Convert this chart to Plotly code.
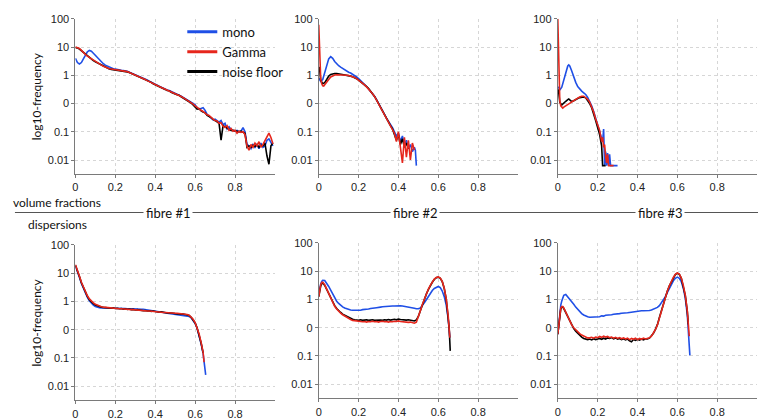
import plotly.graph_objects as go

BLUE = "#1f4fe6"
RED = "#e6261c"
BLACK = "#000000"

x_ticks = [0, 0.2, 0.4, 0.6, 0.8]
x_tick_labels = ["0", "0.2", "0.4", "0.6", "0.8"]
y_ticks = [2, 1, 0, -1, -2, -3]
y_tick_labels = ["100", "10", "1", "0", "0.1", "0.01"]
series_names = ["mono", "Gamma", "noise floor"]
fibre_labels = ["fibre #1", "fibre #2", "fibre #3"]
row_labels = ["volume fractions", "dispersions"]
y_title = "log10-frequency"

# ---------- top row: volume fractions (x, log10 frequency) ----------
tl_x = [0.00,0.01,0.02,0.03,0.04,0.05,0.06,0.07,0.08,0.09,0.10,0.11,0.12,0.13,0.14,0.15,0.16,0.17,0.18,0.19,
        0.20,0.21,0.22,0.23,0.24,0.25,0.26,0.27,0.28,0.29,0.30,0.31,0.32,0.33,0.34,0.35,0.36,0.37,0.38,0.39,
        0.40,0.41,0.42,0.43,0.44,0.45,0.46,0.47,0.48,0.49,0.50,0.51,0.52,0.53,0.54,0.55,0.56,0.57,0.58,0.59,
        0.60,0.61,0.62,0.63,0.64,0.65,0.66,0.67,0.68,0.69,0.70,0.71,0.72,0.73,0.74,0.75,0.76,0.77,0.78,0.79,
        0.80,0.81,0.82,0.83,0.84,0.85,0.86,0.87,0.88,0.89,0.90,0.91,0.92,0.93,0.94,0.95,0.96,0.97,0.98,0.99]
tl_gamma = [1.00,0.98,0.95,0.88,0.80,0.74,0.68,0.63,0.58,0.53,0.49,0.45,0.40,0.36,0.32,0.28,0.25,0.23,0.22,0.21,
            0.20,0.19,0.18,0.17,0.16,0.15,0.13,0.10,0.07,0.05,0.02,-0.01,-0.04,-0.08,-0.11,-0.15,-0.19,-0.22,-0.26,-0.29,
            -0.33,-0.36,-0.40,-0.43,-0.47,-0.50,-0.53,-0.56,-0.59,-0.62,-0.65,-0.68,-0.72,-0.75,-0.79,-0.83,-0.87,-0.91,-0.96,-1.02,
            -1.08,-1.14,-1.18,-1.24,-1.28,-1.35,-1.40,-1.42,-1.50,-1.55,-1.60,-1.62,-1.70,-1.68,-1.80,-1.85,-1.78,-1.95,-1.88,-1.98,
            -1.95,-2.05,-1.98,-2.02,-2.00,-2.10,-2.50,-2.65,-2.45,-2.55,-2.40,-2.50,-2.35,-2.55,-2.45,-2.30,-2.15,-2.05,-2.20,-2.42]
tl_mono = [0.60,0.45,0.40,0.45,0.58,0.72,0.83,0.88,0.85,0.78,0.70,0.62,0.54,0.47,0.41,0.36,0.32,0.28,0.25,0.23,
           0.22,0.20,0.19,0.18,0.17,0.16,0.14,0.11,0.08,0.06,0.03,0.00,-0.03,-0.07,-0.10,-0.13,-0.17,-0.21,-0.25,-0.28,
           -0.32,-0.35,-0.39,-0.42,-0.46,-0.48,-0.52,-0.54,-0.58,-0.61,-0.63,-0.67,-0.71,-0.74,-0.78,-0.82,-0.85,-0.90,-0.95,-1.00,
           -1.05,-1.15,-1.20,-1.18,-1.15,-1.24,-1.38,-1.45,-1.52,-1.58,-1.55,-1.62,-1.66,-1.60,-1.75,-1.70,-1.90,-1.82,-1.92,-1.95,
           -1.98,-1.95,-2.00,-1.98,-1.85,-2.00,-2.45,-2.50,-2.60,-2.45,-2.55,-2.45,-2.60,-2.40,-2.55,-2.50,-2.30,-2.25,-2.40,-2.50]
tl_noise = [0.98,0.97,0.93,0.87,0.80,0.73,0.67,0.62,0.57,0.52,0.48,0.44,0.39,0.35,0.31,0.27,0.24,0.22,0.21,0.20,
            0.19,0.19,0.18,0.17,0.16,0.14,0.12,0.10,0.07,0.04,0.02,-0.02,-0.05,-0.08,-0.12,-0.15,-0.18,-0.22,-0.25,-0.30,
            -0.33,-0.37,-0.40,-0.44,-0.46,-0.50,-0.54,-0.55,-0.60,-0.62,-0.66,-0.69,-0.71,-0.76,-0.80,-0.84,-0.88,-0.92,-0.98,-1.05,
            -1.12,-1.20,-1.18,-1.26,-1.30,-1.33,-1.42,-1.45,-1.50,-1.56,-1.62,-1.65,-1.70,-2.30,-1.78,-1.82,-1.85,-1.92,-1.95,-1.95,
            -1.97,-2.00,-2.00,-1.98,-2.02,-2.05,-2.55,-2.50,-2.55,-2.48,-2.52,-2.45,-2.55,-2.48,-2.50,-2.40,-2.85,-3.15,-2.50,-2.40]

tm_gamma = [(0,1.79),(0.003,1.20),(0.006,0.50),(0.01,-0.15),(0.015,-0.30),(0.02,-0.37),(0.025,-0.38),(0.03,-0.34),
            (0.04,-0.25),(0.05,-0.15),(0.06,-0.06),(0.07,-0.01),(0.08,0.01),(0.09,0.02),(0.10,0.02),(0.11,0.02),(0.12,0.02),
            (0.13,0.01),(0.14,0.00),(0.15,-0.01),(0.16,-0.03),(0.17,-0.05),(0.18,-0.08),(0.19,-0.12),(0.20,-0.17),
            (0.21,-0.22),(0.22,-0.28),(0.23,-0.34),(0.24,-0.41),(0.25,-0.48),(0.26,-0.56),(0.27,-0.65),(0.28,-0.75),(0.29,-0.88),
            (0.30,-1.02),(0.31,-1.15),(0.32,-1.30),(0.33,-1.45),(0.34,-1.58),(0.35,-1.68),(0.36,-1.80),(0.37,-1.92),(0.38,-2.05),
            (0.39,-2.35),(0.40,-2.00),(0.41,-2.55),(0.42,-3.10),(0.43,-2.20),(0.44,-2.90),(0.45,-2.30),(0.46,-3.00),(0.47,-2.40),(0.48,-2.65)]
tm_mono = [(0,-0.10),(0.01,-0.22),(0.02,-0.15),(0.03,0.10),(0.04,0.38),(0.05,0.58),(0.06,0.66),(0.07,0.60),(0.08,0.49),
           (0.09,0.40),(0.10,0.34),(0.11,0.29),(0.12,0.24),(0.13,0.19),(0.14,0.14),(0.15,0.11),(0.16,0.08),(0.17,0.04),
           (0.18,0.00),(0.19,-0.06),(0.20,-0.12),(0.21,-0.20),(0.22,-0.26),(0.23,-0.33),(0.24,-0.40),(0.25,-0.48),(0.26,-0.55),
           (0.27,-0.64),(0.28,-0.74),(0.29,-0.86),(0.30,-0.98),(0.31,-1.10),(0.32,-1.25),(0.33,-1.38),(0.34,-1.52),(0.35,-1.62),
           (0.36,-1.75),(0.37,-1.85),(0.38,-2.00),(0.39,-2.15),(0.40,-2.05),(0.41,-2.35),(0.42,-2.15),(0.43,-2.50),(0.44,-2.30),
           (0.45,-2.60),(0.46,-2.45),(0.47,-2.70),(0.48,-2.55),(0.485,-2.65),(0.49,-3.20)]
tm_noise = [(0.003,0.30),(0.006,-0.05),(0.01,-0.18),(0.02,-0.30),(0.03,-0.26),(0.04,-0.15),(0.05,-0.03),(0.06,0.03),
            (0.07,0.05),(0.08,0.06),(0.09,0.06),(0.10,0.05),(0.11,0.04),(0.12,0.03),(0.13,0.02),(0.14,0.01),(0.15,-0.01),
            (0.16,-0.03),(0.17,-0.05),(0.18,-0.08),(0.19,-0.12),(0.20,-0.17),(0.21,-0.22),(0.22,-0.28),(0.23,-0.34),(0.24,-0.40),
            (0.25,-0.47),(0.26,-0.56),(0.27,-0.64),(0.28,-0.75),(0.29,-0.87),(0.30,-1.00),(0.31,-1.14),(0.32,-1.28),(0.33,-1.42),
            (0.34,-1.55),(0.35,-1.70),(0.36,-1.78),(0.37,-1.90),(0.38,-2.10),(0.39,-2.30),(0.40,-2.10),(0.41,-2.45),(0.42,-2.25),
            (0.43,-2.55),(0.44,-2.40),(0.45,-2.60)]

tr_gamma = [(0,2.00),(0.003,1.00),(0.006,-0.30),(0.01,-0.90),(0.015,-1.08),(0.02,-1.14),(0.025,-1.16),(0.03,-1.13),
            (0.04,-1.08),(0.05,-1.03),(0.06,-0.98),(0.07,-0.94),(0.08,-0.89),(0.09,-0.85),(0.10,-0.81),(0.11,-0.77),(0.12,-0.74),
            (0.13,-0.74),(0.14,-0.78),(0.15,-0.85),(0.16,-0.95),(0.17,-1.10),(0.18,-1.30),(0.19,-1.55),(0.20,-1.75),(0.21,-1.95),
            (0.22,-2.35),(0.225,-2.20),(0.23,-2.55),(0.235,-2.45),(0.24,-2.85),(0.245,-3.10),(0.25,-2.80),(0.255,-3.20),
            (0.27,-3.20),(0.28,-3.20)]
tr_mono = [(0.003,-0.40),(0.01,-0.52),(0.02,-0.42),(0.03,-0.15),(0.04,0.12),(0.05,0.33),(0.055,0.37),(0.06,0.33),
           (0.07,0.15),(0.08,-0.08),(0.09,-0.25),(0.10,-0.40),(0.11,-0.50),(0.12,-0.56),(0.13,-0.62),(0.14,-0.68),(0.15,-0.78),
           (0.16,-0.92),(0.17,-1.08),(0.18,-1.28),(0.19,-1.52),(0.20,-1.72),(0.21,-1.95),(0.22,-2.20),(0.225,-2.35),(0.23,-1.90),
           (0.235,-3.20),(0.24,-2.70),(0.245,-3.20),(0.25,-2.75),(0.255,-3.20),(0.26,-2.80),(0.265,-3.20),(0.27,-3.20),(0.30,-3.20)]
tr_noise = [(0.003,-0.50),(0.006,-0.85),(0.01,-0.95),(0.02,-1.05),(0.03,-1.00),(0.04,-0.92),(0.05,-0.86),(0.055,-0.84),
            (0.06,-0.87),(0.07,-0.93),(0.08,-0.90),(0.09,-0.85),(0.10,-0.82),(0.11,-0.79),(0.12,-0.77),(0.13,-0.77),(0.14,-0.80),
            (0.15,-0.88),(0.16,-1.00),(0.17,-1.15),(0.18,-1.35),(0.19,-1.60),(0.20,-1.85),(0.21,-2.10),(0.22,-2.50),
            (0.225,-3.20),(0.24,-3.20)]

# ---------- bottom row: dispersions ----------
bl_x = [0.00,0.01,0.02,0.03,0.04,0.05,0.06,0.07,0.08,0.09,0.10,0.11,0.12,0.13,0.14,0.15,0.16,0.17,0.18,0.19,
        0.20,0.21,0.22,0.23,0.24,0.25,0.26,0.27,0.28,0.29,0.30,0.31,0.32,0.33,0.34,0.35,0.36,0.37,0.38,0.39,
        0.40,0.41,0.42,0.43,0.44,0.45,0.46,0.47,0.48,0.49,0.50,0.51,0.52,0.53,0.54,0.55,0.56,0.57,0.58,0.59,
        0.60,0.61,0.62,0.63,0.64]
bl_gamma = [1.30,1.12,0.90,0.68,0.50,0.34,0.20,0.09,0.01,-0.05,-0.10,-0.14,-0.17,-0.19,-0.20,-0.21,-0.22,-0.23,-0.23,-0.24,
            -0.25,-0.25,-0.26,-0.26,-0.27,-0.27,-0.28,-0.28,-0.29,-0.29,-0.30,-0.30,-0.31,-0.32,-0.32,-0.33,-0.34,-0.34,-0.35,-0.36,
            -0.37,-0.37,-0.38,-0.38,-0.39,-0.39,-0.40,-0.40,-0.41,-0.41,-0.42,-0.42,-0.43,-0.43,-0.44,-0.44,-0.46,-0.49,-0.55,-0.63,
            -0.75,-0.93,-1.15,-1.45,-1.80]
bl_gamma_tail = [(0.645,-2.15)]
bl_mono = [1.25,1.08,0.86,0.64,0.45,0.28,0.14,0.02,-0.06,-0.13,-0.18,-0.21,-0.22,-0.23,-0.23,-0.24,-0.24,-0.25,-0.24,-0.25,
           -0.25,-0.24,-0.25,-0.25,-0.24,-0.25,-0.26,-0.25,-0.26,-0.26,-0.27,-0.26,-0.27,-0.28,-0.28,-0.29,-0.29,-0.30,-0.31,-0.32,
           -0.33,-0.35,-0.36,-0.38,-0.39,-0.40,-0.42,-0.43,-0.44,-0.45,-0.46,-0.47,-0.48,-0.48,-0.49,-0.50,-0.51,-0.53,-0.58,-0.66,
           -0.78,-0.95,-1.20,-1.50,-1.85]
bl_mono_tail = [(0.65,-2.40),(0.653,-2.60)]
bl_noise = [1.28,1.10,0.88,0.66,0.48,0.32,0.18,0.06,-0.02,-0.08,-0.13,-0.16,-0.19,-0.20,-0.21,-0.22,-0.23,-0.22,-0.24,-0.23,
            -0.25,-0.24,-0.26,-0.25,-0.27,-0.26,-0.28,-0.27,-0.29,-0.28,-0.30,-0.29,-0.31,-0.31,-0.33,-0.32,-0.34,-0.33,-0.35,-0.34,
            -0.36,-0.36,-0.38,-0.37,-0.39,-0.39,-0.41,-0.40,-0.42,-0.42,-0.43,-0.43,-0.44,-0.44,-0.45,-0.46,-0.47,-0.50,-0.56,-0.64,
            -0.76,-0.94,-1.17,-1.47,-1.82]
bl_noise_tail = []

bm_x = [0.00,0.005,0.01,0.015,0.02,0.03,0.04,0.05,0.06,0.07,0.08,0.09,0.10,0.11,0.12,0.13,0.14,0.15,0.16,0.17,0.18,0.19,
        0.20,0.21,0.22,0.23,0.24,0.25,0.26,0.27,0.28,0.29,0.30,0.31,0.32,0.33,0.34,0.35,0.36,0.37,0.38,0.39,
        0.40,0.41,0.42,0.43,0.44,0.45,0.46,0.47,0.48,0.49,0.50,0.51,0.52,0.53,0.54,0.55,0.56,0.57,0.58,0.59,
        0.60,0.61,0.62,0.63,0.64,0.65,0.655]
bm_gamma = [0.10,0.35,0.52,0.60,0.61,0.52,0.36,0.20,0.03,-0.12,-0.24,-0.34,-0.42,-0.48,-0.54,-0.59,-0.64,-0.68,-0.71,-0.74,-0.75,-0.77,
            -0.78,-0.77,-0.79,-0.78,-0.80,-0.78,-0.79,-0.77,-0.79,-0.78,-0.80,-0.78,-0.77,-0.79,-0.78,-0.80,-0.78,-0.79,-0.77,-0.78,
            -0.76,-0.78,-0.79,-0.78,-0.80,-0.81,-0.80,-0.82,-0.84,-0.80,-0.62,-0.40,-0.18,0.02,0.20,0.36,0.50,0.62,0.72,0.78,
            0.80,0.76,0.64,0.40,0.02,-0.60,-1.00]
bm_gamma_tail = [(0.658,-1.35)]
bm_noise = [0.10,0.33,0.48,0.56,0.58,0.50,0.36,0.20,0.05,-0.10,-0.22,-0.32,-0.40,-0.46,-0.52,-0.56,-0.61,-0.65,-0.68,-0.70,-0.72,-0.73,
            -0.74,-0.72,-0.74,-0.73,-0.72,-0.74,-0.73,-0.72,-0.74,-0.73,-0.72,-0.73,-0.74,-0.72,-0.73,-0.71,-0.73,-0.72,-0.70,-0.72,
            -0.69,-0.71,-0.72,-0.71,-0.73,-0.72,-0.74,-0.75,-0.76,-0.72,-0.60,-0.40,-0.19,0.01,0.19,0.35,0.49,0.61,0.71,0.77,
            0.79,0.75,0.63,0.39,0.00,-0.62,-1.05]
bm_noise_tail = [(0.66,-1.82)]
bm_mono = [0.20,0.42,0.55,0.64,0.68,0.67,0.58,0.46,0.33,0.18,0.05,-0.06,-0.14,-0.21,-0.26,-0.30,-0.33,-0.35,-0.37,-0.38,-0.38,-0.39,
           -0.37,-0.38,-0.36,-0.36,-0.34,-0.34,-0.32,-0.32,-0.30,-0.29,-0.27,-0.27,-0.26,-0.25,-0.25,-0.24,-0.24,-0.23,-0.23,-0.22,
           -0.22,-0.22,-0.23,-0.24,-0.25,-0.27,-0.28,-0.30,-0.31,-0.33,-0.33,-0.30,-0.22,-0.12,-0.01,0.10,0.22,0.32,0.39,0.44,
           0.46,0.42,0.30,0.10,-0.20,-0.70,-1.10]
bm_mono_tail = [(0.658,-1.35)]

br_x = [0.00,0.005,0.01,0.015,0.02,0.025,0.03,0.04,0.05,0.06,0.07,0.08,0.09,0.10,0.11,0.12,0.13,0.14,0.15,0.16,0.17,0.18,0.19,
        0.20,0.21,0.22,0.23,0.24,0.25,0.26,0.27,0.28,0.29,0.30,0.31,0.32,0.33,0.34,0.35,0.36,0.37,0.38,0.39,
        0.40,0.41,0.42,0.43,0.44,0.45,0.46,0.47,0.48,0.49,0.50,0.51,0.52,0.53,0.54,0.55,0.56,0.57,0.58,0.59,
        0.60,0.61,0.62,0.63,0.64,0.65,0.655]
br_gamma = [-1.23,-0.85,-0.50,-0.30,-0.25,-0.25,-0.30,-0.45,-0.62,-0.77,-0.90,-1.00,-1.08,-1.15,-1.21,-1.26,-1.30,-1.34,-1.36,-1.36,-1.34,-1.37,-1.33,
            -1.35,-1.31,-1.34,-1.30,-1.33,-1.31,-1.35,-1.33,-1.37,-1.34,-1.38,-1.35,-1.39,-1.36,-1.40,-1.37,-1.42,-1.38,-1.41,-1.37,
            -1.42,-1.38,-1.41,-1.37,-1.40,-1.38,-1.36,-1.30,-1.20,-1.07,-0.90,-0.65,-0.40,-0.13,0.10,0.30,0.48,0.64,0.78,0.89,
            0.94,0.90,0.76,0.50,0.15,-0.40,-0.85]
br_gamma_tail = [(0.66,-1.30)]
br_noise = [-1.23,-0.88,-0.53,-0.33,-0.27,-0.27,-0.32,-0.46,-0.63,-0.78,-0.92,-1.03,-1.12,-1.20,-1.27,-1.33,-1.38,-1.40,-1.42,-1.40,-1.43,-1.39,-1.42,
            -1.40,-1.38,-1.41,-1.37,-1.40,-1.36,-1.38,-1.35,-1.39,-1.36,-1.40,-1.38,-1.42,-1.39,-1.43,-1.40,-1.46,-1.50,-1.42,-1.45,
            -1.41,-1.44,-1.40,-1.43,-1.39,-1.40,-1.37,-1.30,-1.20,-1.06,-0.89,-0.64,-0.39,-0.12,0.10,0.30,0.48,0.63,0.77,0.88,
            0.93,0.89,0.75,0.49,0.14,-0.42,-0.88]
br_noise_tail = []
br_mono = [-1.23,-0.80,-0.40,-0.20,-0.05,0.06,0.15,0.18,0.10,0.01,-0.08,-0.17,-0.27,-0.36,-0.43,-0.50,-0.55,-0.59,-0.61,-0.63,-0.63,-0.62,-0.63,
           -0.61,-0.61,-0.58,-0.59,-0.56,-0.56,-0.54,-0.54,-0.52,-0.52,-0.50,-0.50,-0.49,-0.49,-0.48,-0.47,-0.46,-0.45,-0.43,-0.41,
           -0.40,-0.41,-0.40,-0.40,-0.40,-0.39,-0.39,-0.37,-0.34,-0.30,-0.28,-0.22,-0.12,-0.02,0.10,0.25,0.40,0.54,0.66,0.75,
           0.79,0.75,0.63,0.40,0.05,-0.55,-1.20]
br_mono_tail = [(0.663,-1.98)]


def split(pts):
    return [p[0] for p in pts], [p[1] for p in pts]


panels = [
    (list(zip(tl_x, tl_mono)), list(zip(tl_x, tl_gamma)), list(zip(tl_x, tl_noise))),
    (tm_mono, tm_gamma, tm_noise),
    (tr_mono, tr_gamma, tr_noise),
    (list(zip(bl_x, bl_mono)) + bl_mono_tail, list(zip(bl_x, bl_gamma)) + bl_gamma_tail, list(zip(bl_x, bl_noise)) + bl_noise_tail),
    (list(zip(bm_x, bm_mono)) + bm_mono_tail, list(zip(bm_x, bm_gamma)) + bm_gamma_tail, list(zip(bm_x, bm_noise)) + bm_noise_tail),
    (list(zip(br_x, br_mono)) + br_mono_tail, list(zip(br_x, br_gamma)) + br_gamma_tail, list(zip(br_x, br_noise)) + br_noise_tail),
]

W, H = 760, 420
col_px = [(72.7, 273), (317, 517), (557, 757)]
row_px = [[(13, 171), (13, 171), (13, 171)], [(243, 401), (241, 399), (241, 399)]]

fig = go.Figure()
tick_font = dict(family="Liberation Sans, Arial, sans-serif", size=11, color="#222")
layout_axes = {}
for i, (mono, gamma, noise) in enumerate(panels):
    r, c = divmod(i, 3)
    n = i + 1
    xa = "x" if n == 1 else f"x{n}"
    ya = "y" if n == 1 else f"y{n}"
    for data, color in [(mono, BLUE), (noise, BLACK), (gamma, RED)]:
        xs, ys = split(data)
        fig.add_trace(go.Scatter(x=xs, y=ys, mode="lines", line=dict(color=color, width=1.6),
                                 xaxis=xa, yaxis=ya, showlegend=False, hoverinfo="skip"))
    x0, x1 = col_px[c]
    y0, y1 = row_px[r][c]
    common = dict(showgrid=True, gridcolor="#d6d6d6", griddash="dot", gridwidth=1,
                  showline=True, linecolor="#7a7a7a", linewidth=1, zeroline=False,
                  ticks="outside", ticklen=3, tickcolor="#7a7a7a", tickfont=tick_font)
    layout_axes["xaxis" if n == 1 else f"xaxis{n}"] = dict(
        domain=[x0 / W, x1 / W], range=[0, 1], tickvals=x_ticks, ticktext=x_tick_labels,
        anchor=ya, **common)
    layout_axes["yaxis" if n == 1 else f"yaxis{n}"] = dict(
        domain=[1 - y1 / H, 1 - y0 / H], range=[-3.5, 2], tickvals=y_ticks, ticktext=y_tick_labels,
        anchor=xa, **common)

# legend entries
for name, color, rank in [("mono", BLUE, 1), ("Gamma", RED, 2), ("noise floor", BLACK, 3)]:
    fig.add_trace(go.Scatter(x=[None], y=[None], mode="lines", name=name, legendrank=rank,
                             line=dict(color=color, width=3), xaxis="x", yaxis="y"))

label_font = dict(family="Lato, sans-serif", size=12, color="#111")
annotations = []
for (y0, y1) in [(13, 171), (243, 401)]:
    annotations.append(dict(text=y_title, x=34 / W, y=1 - (y0 + y1) / 2 / H, xref="paper", yref="paper",
                            xanchor="center", yanchor="middle",
                            textangle=-90, showarrow=False, font=label_font))
annotations.append(dict(text=row_labels[0], x=8 / W, y=1 - 200 / H, xref="paper", yref="paper",
                        xanchor="left", yanchor="middle", showarrow=False, font=label_font))
annotations.append(dict(text=row_labels[1], x=23 / W, y=1 - 222 / H, xref="paper", yref="paper",
                        xanchor="left", yanchor="middle", showarrow=False, font=label_font))
for lbl, cx in zip(fibre_labels, [166, 414, 660]):
    annotations.append(dict(text=lbl, x=cx / W, y=1 - 210 / H, xref="paper", yref="paper", showarrow=False,
                            xanchor="center", yanchor="middle", bgcolor="white", borderpad=2,
                            font=dict(family="Lato, sans-serif", size=13, color="#111")))

fig.update_layout(
    width=W, height=H, margin=dict(l=0, r=0, t=0, b=0),
    paper_bgcolor="white", plot_bgcolor="white",
    showlegend=True,
    legend=dict(x=180 / W, y=1 - 11 / H, xanchor="left", yanchor="top", bgcolor="rgba(0,0,0,0)",
                borderwidth=0, itemwidth=30, tracegroupgap=0,
                font=dict(family="Lato, sans-serif", size=13, color="#111")),
    shapes=[dict(type="line", xref="paper", yref="paper", x0=12 / W, x1=758 / W, y0=1 - 210 / H, y1=1 - 210 / H,
                 line=dict(color="#555", width=1.2), layer="below")],
    annotations=annotations,
    **layout_axes,
)

fig.write_html("out.html", config={"displayModeBar": False},
               post_script="document.body.style.margin='0';document.body.style.overflow='hidden';")
